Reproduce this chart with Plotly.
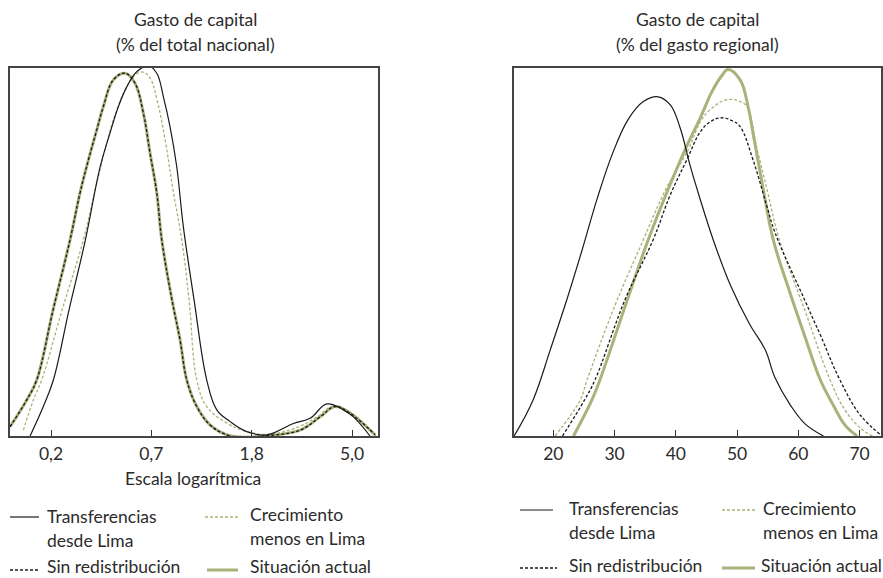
import plotly.graph_objects as go

# ---------------- DATA ----------------
# Left panel: x in log-position units (tick positions below), y = relative density
L_trans_x = [-1.709, -1.577, -1.477, -1.321, -1.158, -1.011, -0.912, -0.829, -0.745, -0.646, -0.530, -0.446,
             -0.380, -0.314, -0.247, -0.181, -0.074, 0.052, 0.152, 0.285, 0.451, 0.651, 0.916, 1.082, 1.249,
             1.414, 1.514, 1.680]
L_trans_y = [0.0, 0.080, 0.152, 0.342, 0.532, 0.730, 0.823, 0.894, 0.948, 0.989, 1.005, 0.985,
             0.921, 0.840, 0.731, 0.568, 0.369, 0.152, 0.071, 0.039, 0.012, 0.003, 0.034, 0.048, 0.087,
             0.071, 0.052, 0.0]

L_crec_x = [-1.776, -1.676, -1.593, -1.390, -1.178, -1.061, -0.962, -0.862, -0.762, -0.663, -0.583, -0.513,
            -0.443, -0.363, -0.284, -0.197, -0.124, -0.047, 0.052, 0.252, 0.451, 0.683, 0.983, 1.162, 1.312,
            1.481, 1.740]
L_crec_y = [0.016, 0.098, 0.152, 0.342, 0.532, 0.668, 0.777, 0.872, 0.939, 0.980, 0.988, 0.972,
            0.912, 0.804, 0.668, 0.532, 0.369, 0.152, 0.080, 0.035, 0.012, 0.005, 0.027, 0.054, 0.081,
            0.065, 0.0]

L_sinr_x = [-1.909, -1.742, -1.643, -1.480, -1.311, -1.211, -1.128, -1.044, -0.979, -0.879, -0.762, -0.663,
            -0.580, -0.513, -0.446, -0.396, -0.294, -0.214, -0.147, -0.047, 0.085, 0.252, 0.384, 0.614,
            0.983, 1.182, 1.331, 1.481, 1.730]
L_sinr_y = [0.025, 0.098, 0.152, 0.342, 0.532, 0.660, 0.749, 0.831, 0.894, 0.967, 0.985, 0.958,
            0.877, 0.768, 0.660, 0.532, 0.369, 0.261, 0.152, 0.080, 0.030, 0.003, -0.003, 0.0,
            0.016, 0.052, 0.080, 0.062, 0.003]

L_actual_x = [-1.909, -1.742, -1.643, -1.480, -1.311, -1.211, -1.128, -1.044, -0.979, -0.879, -0.762, -0.663,
              -0.580, -0.513, -0.446, -0.396, -0.294, -0.214, -0.147, -0.047, 0.085, 0.252, 0.384, 0.614,
              0.983, 1.182, 1.331, 1.481, 1.730]
L_actual_y = [0.025, 0.098, 0.152, 0.342, 0.532, 0.660, 0.749, 0.831, 0.894, 0.967, 0.985, 0.958,
              0.877, 0.768, 0.660, 0.532, 0.369, 0.261, 0.152, 0.080, 0.030, 0.003, -0.003, 0.0,
              0.016, 0.052, 0.080, 0.062, 0.003]

L_tickvals = [-1.5, -0.5, 0.5, 1.5]
L_ticktext = ["0,2", "0,7", "1,8", "5,0"]

# Right panel: x = % of regional spending, y = relative density
R_trans_x = [13.6, 16.7, 19.5, 22.2, 24.7, 27.1, 29.6, 32.2, 34.7, 37.1, 39.1, 40.7, 42.3, 43.9, 46.1,
             48.9, 52.1, 54.6, 56.2, 58.7, 61.1, 64.1]
R_trans_y = [0.0, 0.098, 0.234, 0.370, 0.505, 0.641, 0.764, 0.859, 0.908, 0.921, 0.899, 0.837, 0.736,
             0.647, 0.533, 0.410, 0.302, 0.234, 0.158, 0.084, 0.033, 0.0]

R_crec_x = [20.3, 24.4, 25.5, 30.1, 34.7, 38.3, 42.0, 44.0, 45.6, 48.3, 50.5, 51.6, 53.3, 54.9, 56.9,
            61.1, 65.2, 67.6, 70.1, 72.1]
R_crec_y = [0.0, 0.098, 0.152, 0.356, 0.533, 0.668, 0.777, 0.853, 0.886, 0.913, 0.908, 0.894, 0.777,
            0.668, 0.533, 0.340, 0.152, 0.071, 0.022, 0.0]

R_sinr_x = [21.5, 25.1, 26.8, 31.7, 36.3, 39.1, 41.8, 44.0, 45.6, 47.4, 49.2, 50.5, 52.6, 54.9, 56.2,
            61.1, 63.6, 66.8, 70.1, 73.7]
R_sinr_y = [0.0, 0.098, 0.152, 0.370, 0.533, 0.655, 0.750, 0.826, 0.853, 0.864, 0.856, 0.840, 0.750,
            0.622, 0.552, 0.367, 0.274, 0.152, 0.057, 0.0]

R_actual_x = [23.3, 26.3, 27.6, 31.7, 35.5, 38.7, 41.5, 44.0, 45.9, 47.5, 48.5, 50.5, 51.8, 52.8, 54.2,
              55.9, 58.6, 61.1, 63.6, 65.7, 67.6, 69.6]
R_actual_y = [0.0, 0.098, 0.152, 0.351, 0.533, 0.668, 0.777, 0.864, 0.935, 0.978, 0.995, 0.967, 0.894,
              0.804, 0.677, 0.533, 0.391, 0.269, 0.152, 0.084, 0.030, 0.0]

R_tickvals = [20, 30, 40, 50, 60, 70]
R_ticktext = ["20", "30", "40", "50", "60", "70"]

series_names = ["Transferencias desde Lima", "Crecimiento menos en Lima", "Sin redistribución", "Situación actual"]

# ---------------- STYLE ----------------
W, H = 883, 578
FONT = "Lato"
FS = 17.5
TXT = "#2b2b2b"
GREEN = "#a8b27a"
BLACK = "#1a1a1a"
SMOOTH = 1.1

def px(x):
    return x / W

def py(y):
    return 1 - y / H

fig = go.Figure()

def add_panel(xa, ya, ys):
    fig.add_trace(go.Scatter(x=ys[3][0], y=ys[3][1], mode="lines", xaxis=xa, yaxis=ya,
                             line=dict(color=GREEN, width=3, shape="spline", smoothing=SMOOTH),
                             name=series_names[3], showlegend=False))
    fig.add_trace(go.Scatter(x=ys[1][0], y=ys[1][1], mode="lines", xaxis=xa, yaxis=ya,
                             line=dict(color=GREEN, width=1.3, dash="3px,2px", shape="spline", smoothing=SMOOTH),
                             name=series_names[1], showlegend=False))
    fig.add_trace(go.Scatter(x=ys[0][0], y=ys[0][1], mode="lines", xaxis=xa, yaxis=ya,
                             line=dict(color=BLACK, width=1.2, shape="spline", smoothing=SMOOTH),
                             name=series_names[0], showlegend=False))
    fig.add_trace(go.Scatter(x=ys[2][0], y=ys[2][1], mode="lines", xaxis=xa, yaxis=ya,
                             line=dict(color=BLACK, width=1.3, dash="3px,2px", shape="spline", smoothing=SMOOTH),
                             name=series_names[2], showlegend=False))

add_panel("x", "y",
          [(L_trans_x, L_trans_y), (L_crec_x, L_crec_y), (L_sinr_x, L_sinr_y), (L_actual_x, L_actual_y)])
add_panel("x2", "y2",
          [(R_trans_x, R_trans_y), (R_crec_x, R_crec_y), (R_sinr_x, R_sinr_y), (R_actual_x, R_actual_y)])

ydom = [py(436), py(67.7)]
axis_common = dict(showline=True, mirror=True, linecolor="#444444", linewidth=1.5,
                   showgrid=False, zeroline=False)

fig.update_layout(
    width=W, height=H,
    margin=dict(l=0, r=0, t=0, b=0),
    paper_bgcolor="white", plot_bgcolor="white",
    font=dict(family=FONT, color=TXT, size=FS),
    xaxis=dict(domain=[px(10), px(378)], range=[-1.909, 1.759],
               tickvals=L_tickvals, ticktext=L_ticktext, ticks="inside", ticklen=6,
               tickcolor="#333333", tickwidth=1.2, tickfont=dict(size=FS, color=TXT),
               ticklabelstandoff=1, **axis_common),
    yaxis=dict(domain=ydom, range=[0, 1], showticklabels=False, ticks="", **axis_common),
    xaxis2=dict(domain=[px(514), px(881)], range=[13.58, 73.5],
                tickvals=R_tickvals, ticktext=R_ticktext, ticks="inside", ticklen=6,
                tickcolor="#333333", tickwidth=1.2, tickfont=dict(size=FS, color=TXT),
                ticklabelstandoff=1, anchor="y2", **axis_common),
    yaxis2=dict(domain=ydom, range=[0, 1], showticklabels=False, ticks="", anchor="x2", **axis_common),
)

annotations = []

def text(x, y, s, anchor="center"):
    annotations.append(dict(x=px(x), y=py(y), xref="paper", yref="paper", text=s, showarrow=False,
                            xanchor=anchor, yanchor="middle", font=dict(size=FS, color=TXT, family=FONT)))

# titles
text(195, 20, "Gasto de capital")
text(195, 44, "(% del total nacional)")
text(697, 20, "Gasto de capital")
text(697, 44, "(% del gasto regional)")
text(193, 478, "Escala logarítmica")

shapes = []

def key(x0, x1, y, color, width, dash):
    shapes.append(dict(type="line", xref="paper", yref="paper", x0=px(x0), x1=px(x1), y0=py(y), y1=py(y),
                       line=dict(color=color, width=width, dash=dash)))

# left legend
key(10, 39, 517, BLACK, 1.2, "solid")
text(45, 516, "Transferencias", "left")
text(45, 540, "desde Lima", "left")
key(205, 238, 517, GREEN, 1.3, "3px,2px")
text(248, 514, "Crecimiento", "left")
text(248, 538, "menos en Lima", "left")
key(10, 39, 570, BLACK, 1.3, "3px,2px")
text(45, 566, "Sin redistribución", "left")
key(207, 238, 570, GREEN, 3, "solid")
text(248, 566, "Situación actual", "left")

# right legend
key(520, 553, 510, BLACK, 1.2, "solid")
text(567, 508, "Transferencias", "left")
text(567, 532, "desde Lima", "left")
key(722, 755, 510, GREEN, 1.3, "3px,2px")
text(761, 508, "Crecimiento", "left")
text(761, 532, "menos en Lima", "left")
key(520, 557, 568, BLACK, 1.3, "3px,2px")
text(567, 565, "Sin redistribución", "left")
key(722, 755, 568, GREEN, 3, "solid")
text(759, 565, "Situación actual", "left")

fig.update_layout(annotations=annotations, shapes=shapes)

fig.write_html("out.html")
